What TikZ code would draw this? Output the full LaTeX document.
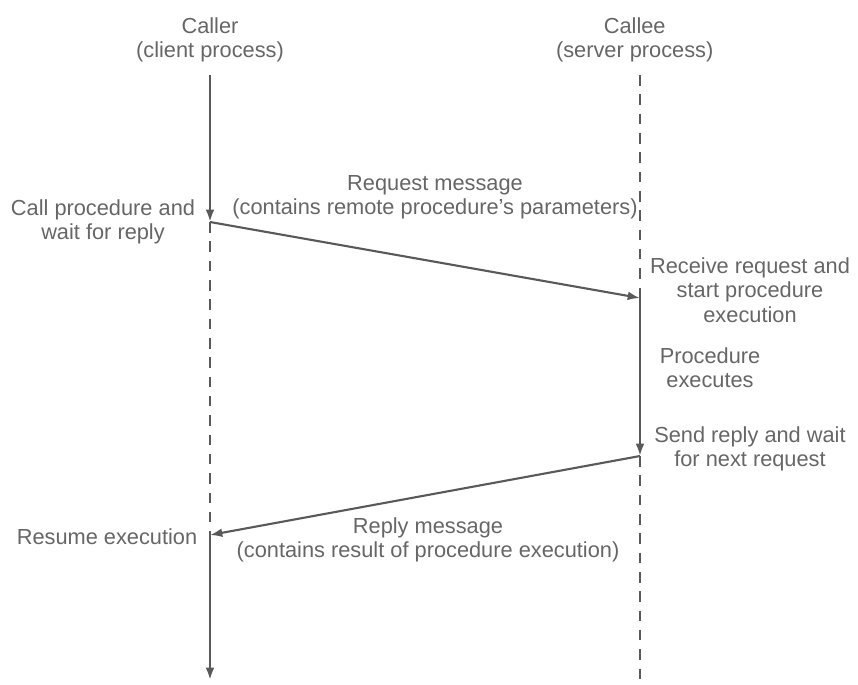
\documentclass[tikz,border=0pt]{standalone}
\usepackage{fontspec}
\setmainfont{Liberation Sans}
\usetikzlibrary{positioning, arrows.meta}
\colorlet{linegray}{black!65}
\colorlet{textgray}{black!60}
\tikzset{
  >={Latex[length=7pt,width=5pt]},
  label text/.style={text=textgray,font=\fontsize{12.4}{13.8}\selectfont,align=center,inner sep=1pt},
  life solid/.style={line width=1.4pt,linegray},
  life dashed/.style={line width=1.5pt,linegray,dash pattern=on 6pt off 5pt},
  message/.style={->,line width=1.2pt,linegray}
}
\begin{document}
\begin{tikzpicture}[x=0.02cm,y=-0.02cm]
  \useasboundingbox (0,0) rectangle (858,684);

  % Caller lifeline
  \coordinate (c0) at (210,75);
  \coordinate (c1) at (210,222);
  \coordinate (c2) at (210,535);
  \coordinate (c3) at (210,680);

  % Callee lifeline
  \coordinate (s0) at (640,75);
  \coordinate (s1) at (640,298);
  \coordinate (s2) at (640,456);
  \coordinate (s3) at (640,680);

  % Headers
  \node[label text, above=2.2mm of c0] (caller) {Caller\\(client process)};
  \node[label text, above=2.2mm of s0, xshift=-3pt] (callee) {Callee\\(server process)};

  % Side labels
  \node[label text] (call) at (103,222) {Call procedure and\\wait for reply};
  \node[label text] (request) at (435,197) {Request message\\(contains remote procedure's parameters)};
  \node[label text] (receive) at (750,290) {Receive request and\\start procedure\\execution};
  \node[label text] (executes) at (710,368) {Procedure\\executes};
  \node[label text] (send) at (750,449) {Send reply and wait\\for next request};
  \node[label text] (resume) at (107,537) {Resume execution};
  \node[label text] (reply) at (428,540) {Reply message\\(contains result of procedure execution)};

  % Lifelines
  \draw[life solid,->] (c0) -- (c1);
  \draw[life dashed] (c1) -- (c2);
  \draw[life solid,->] (c2) -- (c3);
  \draw[life dashed] (s0) -- (s1);
  \draw[life solid,->] (s1) -- (s2);
  \draw[life dashed] (s2) -- (s3);

  % Messages
  \draw[message] (c1) -- (s1);
  \draw[message] (s2) -- (c2);
\end{tikzpicture}
\end{document}
